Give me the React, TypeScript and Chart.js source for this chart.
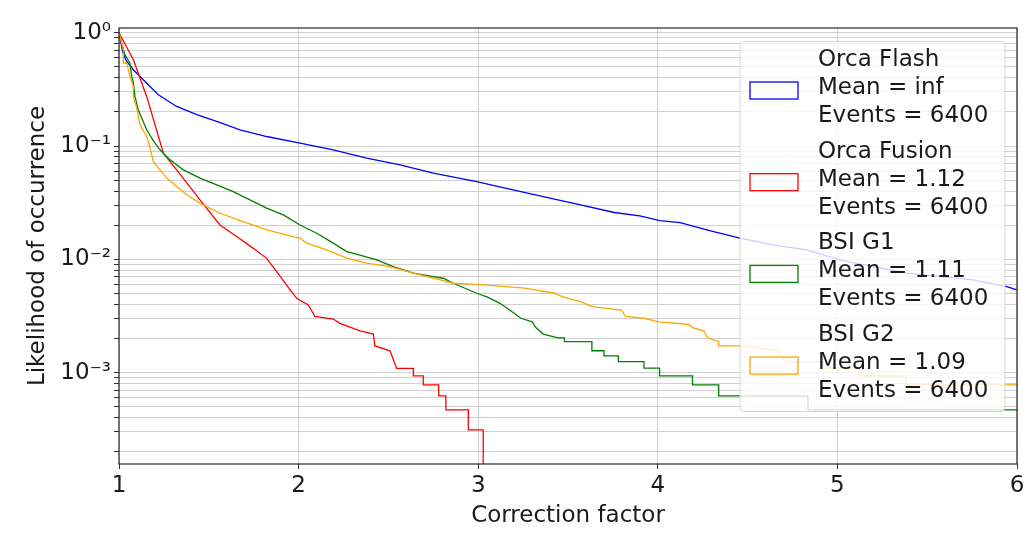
import React, { useEffect, useRef } from "react";
import { Chart, registerables } from "chart.js";

Chart.register(...registerables);

// Survival curves (fraction of events whose correction factor exceeds x), [x, likelihood]
const orcaFlash: [number, number][] = [
  [1.0, 1.0], [1.022, 0.662], [1.043, 0.558], [1.08, 0.471], [1.135, 0.384], [1.191, 0.314],
  [1.219, 0.283], [1.321, 0.2235], [1.433, 0.189], [1.544, 0.1646], [1.674, 0.139], [1.822, 0.1213],
  [2.008, 0.106], [2.193, 0.0926], [2.379, 0.0782], [2.565, 0.0683], [2.75, 0.0576], [2.992, 0.0486],
  [3.113, 0.0439], [3.362, 0.0358], [3.57, 0.0303], [3.757, 0.0259], [3.9, 0.0242], [4.012, 0.022],
  [4.124, 0.0211], [4.272, 0.0182], [4.457, 0.01536], [4.641, 0.0134], [4.829, 0.0121], [5.013, 0.00988],
  [5.198, 0.00862], [5.386, 0.00754], [5.571, 0.00704], [5.755, 0.00658], [5.943, 0.00574], [6.0, 0.00537],
];

const orcaFusion: [number, number][] = [
  [1.0, 1.0], [1.08, 0.577], [1.154, 0.274], [1.247, 0.0866], [1.321, 0.0616], [1.451, 0.0335],
  [1.562, 0.0201], [1.655, 0.0159], [1.748, 0.0125], [1.822, 0.0102], [1.878, 0.0078], [1.952, 0.0054],
  [1.989, 0.00453], [2.054, 0.00395], [2.091, 0.00313], [2.193, 0.00297], [2.23, 0.00272], [2.342, 0.00234],
  [2.416, 0.00219], [2.425, 0.00172], [2.509, 0.00156], [2.546, 0.00109], [2.639, 0.00109], [2.639, 0.000938],
  [2.694, 0.000938], [2.694, 0.000781], [2.78, 0.000781], [2.78, 0.000625], [2.82, 0.000625], [2.82, 0.000469],
  [2.945, 0.000469], [2.945, 0.000313], [3.028, 0.000313], [3.028, 0.00001],
];

const bsiG1: [number, number][] = [
  [1.0, 1.0], [1.033, 0.639], [1.061, 0.54], [1.071, 0.411], [1.08, 0.36], [1.089, 0.274], [1.107, 0.209],
  [1.126, 0.1775], [1.154, 0.139], [1.2, 0.106], [1.228, 0.0926], [1.284, 0.0755], [1.358, 0.0616],
  [1.451, 0.0521], [1.544, 0.0454], [1.636, 0.0396], [1.729, 0.0335], [1.822, 0.0283], [1.915, 0.0247],
  [2.008, 0.0201], [2.101, 0.017], [2.193, 0.0139], [2.268, 0.0117], [2.342, 0.0109], [2.435, 0.00988],
  [2.527, 0.00862], [2.639, 0.00754], [2.75, 0.00704], [2.806, 0.00681], [2.861, 0.00615], [2.992, 0.00502],
  [3.049, 0.00466], [3.121, 0.00409], [3.175, 0.00357], [3.238, 0.00302], [3.3, 0.00281], [3.321, 0.0025],
  [3.362, 0.00219], [3.445, 0.00203], [3.48, 0.00203], [3.48, 0.001875], [3.633, 0.001875], [3.633, 0.00156],
  [3.7, 0.00156], [3.7, 0.001406], [3.78, 0.001406], [3.78, 0.00125], [3.923, 0.00125], [3.923, 0.001094],
  [4.01, 0.001094], [4.01, 0.000938], [4.193, 0.000938], [4.193, 0.000781], [4.339, 0.000781], [4.339, 0.000625],
  [4.836, 0.000625], [4.836, 0.000469], [6.0, 0.000469],
];

const bsiG2: [number, number][] = [
  [1.0, 1.0], [1.024, 0.708], [1.024, 0.54], [1.043, 0.54], [1.061, 0.411], [1.08, 0.335], [1.08, 0.274],
  [1.099, 0.216], [1.117, 0.154], [1.154, 0.1213], [1.173, 0.0958], [1.191, 0.073], [1.228, 0.0616],
  [1.266, 0.0521], [1.321, 0.0439], [1.377, 0.0371], [1.451, 0.0313], [1.562, 0.0255], [1.692, 0.0215],
  [1.822, 0.0182], [1.97, 0.01586], [2.008, 0.01536], [2.045, 0.01387], [2.156, 0.0121], [2.268, 0.01023],
  [2.379, 0.00924], [2.509, 0.00862], [2.639, 0.00754], [2.75, 0.00681], [2.861, 0.00615], [3.03, 0.00594],
  [3.155, 0.00574], [3.258, 0.00556], [3.425, 0.00502], [3.467, 0.00468], [3.57, 0.00423], [3.633, 0.00382],
  [3.798, 0.00357], [3.82, 0.00313], [3.923, 0.00302], [4.007, 0.00281], [4.173, 0.00266], [4.193, 0.0025],
  [4.256, 0.00234], [4.277, 0.00203], [4.339, 0.001875], [4.339, 0.00172], [4.484, 0.00172], [4.669, 0.00156],
  [4.714, 0.00125], [4.92, 0.00125], [4.92, 0.001094], [5.12, 0.001094], [5.12, 0.000938], [5.38, 0.000938],
  [5.38, 0.000781], [6.0, 0.000781],
];

const seriesNames = ["Orca Flash", "Orca Fusion", "BSI G1", "BSI G2"];
const seriesMeans = ["inf", "1.12", "1.11", "1.09"];
const seriesEvents = [6400, 6400, 6400, 6400];
const seriesColors = ["#0000ff", "#ff0000", "#008000", "#ffa500"];

const xTickValues = [1, 2, 3, 4, 5, 6];
const yMajorValues = [1, 0.1, 0.01, 0.001];
const yMajorLabels = ["10\u2070", "10\u207b\u00b9", "10\u207b\u00b2", "10\u207b\u00b3"];

const Y_MIN = 1 / 6400;
const Y_MAX = 1.1;

const FONT = '"DejaVu Sans", sans-serif';
const TEXT = "#1a1a1a";

// every decade's 1..9 multiples inside the axis range, used for the log grid
const yGridValues: number[] = [];
for (let e = -4; e <= 0; e++) {
  for (let m = 1; m <= 9; m++) {
    const v = parseFloat((m * Math.pow(10, e)).toPrecision(4));
    if (v >= Y_MIN && v <= Y_MAX) yGridValues.push(v);
  }
}

const yLabelFor = (v: number) => {
  const i = yMajorValues.findIndex((m) => Math.abs(m - v) / m < 1e-6);
  return i >= 0 ? yMajorLabels[i] : "";
};

const frameLegendPlugin = {
  id: "frameLegend",
  afterDatasetsDraw(chart: any) {
    const { ctx, chartArea } = chart;
    const w = 265;
    const h = 370;
    const x0 = chartArea.right - 12 - w;
    const y0 = chartArea.top + 13.5;
    const r = 4;
    ctx.save();
    ctx.beginPath();
    ctx.moveTo(x0 + r, y0);
    ctx.lineTo(x0 + w - r, y0);
    ctx.arcTo(x0 + w, y0, x0 + w, y0 + r, r);
    ctx.lineTo(x0 + w, y0 + h - r);
    ctx.arcTo(x0 + w, y0 + h, x0 + w - r, y0 + h, r);
    ctx.lineTo(x0 + r, y0 + h);
    ctx.arcTo(x0, y0 + h, x0, y0 + h - r, r);
    ctx.lineTo(x0, y0 + r);
    ctx.arcTo(x0, y0, x0 + r, y0, r);
    ctx.closePath();
    ctx.fillStyle = "rgba(255,255,255,0.8)";
    ctx.fill();
    ctx.strokeStyle = "rgba(204,204,204,0.8)";
    ctx.lineWidth = 1;
    ctx.stroke();

    ctx.font = `23px ${FONT}`;
    ctx.textBaseline = "middle";
    ctx.textAlign = "left";
    seriesNames.forEach((name, i) => {
      const top = y0 + 18.5 + i * 91.7;
      const lines = [name, `Mean = ${seriesMeans[i]}`, `Events = ${seriesEvents[i]}`];
      ctx.fillStyle = TEXT;
      lines.forEach((t, k) => ctx.fillText(t, x0 + 78, top + k * 28));
      ctx.strokeStyle = seriesColors[i];
      ctx.lineWidth = 1.3;
      ctx.strokeRect(x0 + 10, top + 28 - 6, 48, 17);
    });

    // axes frame
    ctx.strokeStyle = "#262626";
    ctx.lineWidth = 1.2;
    ctx.strokeRect(chartArea.left, chartArea.top, chartArea.right - chartArea.left, chartArea.bottom - chartArea.top);
    ctx.restore();
  },
};

export default function App() {
  const canvasRef = useRef<HTMLCanvasElement | null>(null);

  useEffect(() => {
    document.body.style.margin = "0";
    const canvas = canvasRef.current;
    if (!canvas) return;
    const all = [orcaFlash, orcaFusion, bsiG1, bsiG2];
    const chart = new Chart(canvas, {
      type: "line",
      data: {
        datasets: all.map((pts, i) => ({
          label: seriesNames[i],
          data: pts.map(([x, y]) => ({ x, y })),
          borderColor: seriesColors[i],
          borderWidth: 1.3,
          pointRadius: 0,
          fill: false,
          tension: 0,
          order: 3 - i,
        })),
      },
      options: {
        animation: false,
        responsive: false,
        devicePixelRatio: 1,
        layout: { padding: { top: 28, right: 19, bottom: 0, left: 0 } },
        plugins: { legend: { display: false }, tooltip: { enabled: false } },
        scales: {
          x: {
            type: "linear",
            min: 1,
            max: 6,
            afterBuildTicks: (scale: any) => {
              scale.ticks = xTickValues.map((v) => ({ value: v }));
            },
            afterFit: (scale: any) => {
              scale.height = 72;
            },
            ticks: {
              autoSkip: false,
              maxRotation: 0,
              padding: 3,
              color: TEXT,
              font: { family: FONT, size: 23 },
              callback: (v: any) => String(v),
            },
            grid: { color: "#d0d0d0", lineWidth: 1, tickLength: 5, tickColor: "#333333" },
            border: { display: false },
            title: {
              display: true,
              text: "Correction factor",
              color: TEXT,
              font: { family: FONT, size: 23 },
              padding: { top: 0, bottom: 6 },
            },
          },
          y: {
            type: "logarithmic",
            min: Y_MIN,
            max: Y_MAX,
            afterBuildTicks: (scale: any) => {
              scale.ticks = yGridValues.map((v) => ({ value: v }));
            },
            afterFit: (scale: any) => {
              scale.width = 119;
            },
            ticks: {
              autoSkip: false,
              padding: 3,
              color: TEXT,
              font: { family: FONT, size: 23 },
              callback: (v: any) => yLabelFor(Number(v)),
            },
            grid: { color: "#d0d0d0", lineWidth: 1, tickLength: 5, tickColor: "#333333" },
            border: { display: false },
            title: {
              display: true,
              text: "Likelihood of occurrence",
              color: TEXT,
              font: { family: FONT, size: 23 },
              padding: { top: 24, bottom: 0 },
            },
          },
        },
      },
      plugins: [frameLegendPlugin],
    });
    return () => chart.destroy();
  }, []);

  return (
    <div style={{ width: 1036, height: 536, background: "#ffffff" }}>
      <canvas ref={canvasRef} width={1036} height={536} />
    </div>
  );
}
